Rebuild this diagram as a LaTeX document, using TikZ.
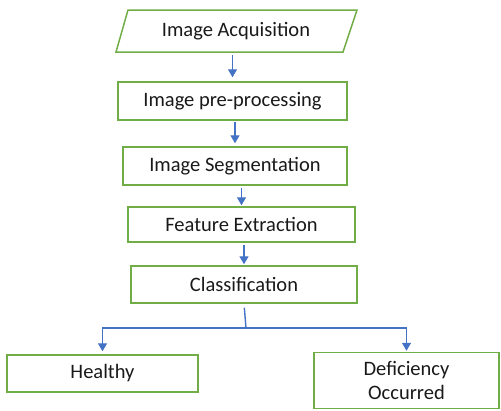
\documentclass[tikz,border=0pt]{standalone}
\usepackage{fontspec}
\setmainfont{Carlito}
\usetikzlibrary{arrows.meta}
\definecolor{boxgreen}{RGB}{112,173,71}
\definecolor{arrowblue}{RGB}{68,114,196}
\definecolor{txt}{RGB}{25,25,25}
\tikzset{txtfont/.style={text=txt,font=\fontsize{20.5}{24}\selectfont}}
\begin{document}
\begin{tikzpicture}[x=1pt,y=-1pt,
  box/.style={draw=boxgreen,line width=1.5pt,rectangle,inner sep=0pt,txtfont,align=center},
  conn/.style={draw=arrowblue,line width=1.4pt},
  arr/.style={conn,-{Triangle[length=8pt,width=9pt]}}]
\useasboundingbox (0,0) rectangle (501,410);
% parallelogram
\node[inner sep=0pt,minimum width=228pt,minimum height=42pt,txtfont] (acq) at (236,31) {Image Acquisition};
\draw[draw=boxgreen,line width=1.5pt] (128,10) -- (357,10) -- (343,52) -- (116,52) -- cycle;
\node[box,minimum width=229pt,minimum height=38pt] (pre) at (232.5,101) {Image pre-processing};
\node[box,minimum width=224pt,minimum height=38pt] (seg) at (235,166) {Image Segmentation};
\node[box,minimum width=227pt,minimum height=35pt] (fea) at (241.5,224.5) {Feature Extraction};
\node[box,minimum width=226pt,minimum height=37pt] (cls) at (244,284.5) {Classification};
\node[box,minimum width=191pt,minimum height=37pt] (hea) at (102.5,373.5) {Healthy};
\node[box,minimum width=185pt,minimum height=56pt] (def) at (406.5,380.5) {Deficiency\\[0pt]Occurred};
\coordinate (j) at (246,328);
\draw[arr,shorten <=3pt,shorten >=4pt] (pre.north |- acq.south) -- (pre.north);
\draw[arr,shorten <=1pt,shorten >=3pt] (seg.north |- pre.south) -- (seg.north);
\draw[arr,shorten <=2pt,shorten >=1pt] (fea.north |- seg.south) -- (fea.north);
\draw[arr,shorten <=2pt,shorten >=1pt] (cls.north |- fea.south) -- (cls.north);
\draw[conn,shorten <=4pt] (cls.south) -- (j);
\draw[arr,shorten >=3pt] (j) -| (hea.north);
\draw[arr,shorten >=1pt] (j) -| (def.north);
\end{tikzpicture}
\end{document}
